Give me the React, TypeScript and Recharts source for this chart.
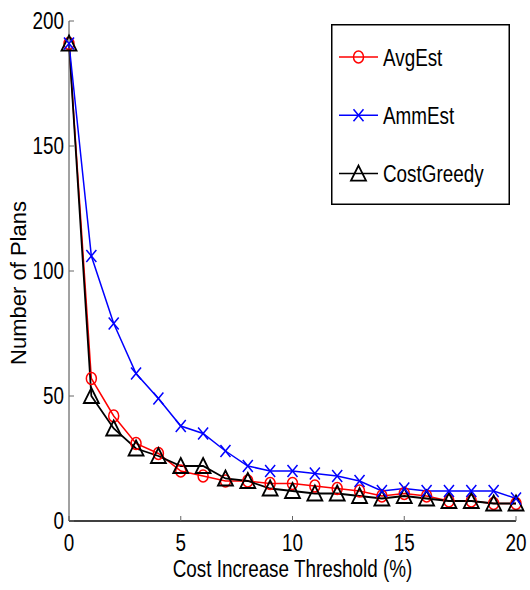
import React from "react";
import { LineChart, Line, XAxis, YAxis, Legend } from "recharts";

// cost increase threshold (%) on the x axis
const thresholds = [0, 1, 2, 3, 4, 5, 6, 7, 8, 9, 10, 11, 12, 13, 14, 15, 16, 17, 18, 19, 20];

// number of plans kept by each method
const avgEst = [191, 57, 42, 31, 27, 20, 18, 16, 16, 15, 15, 14, 13, 12, 10, 11, 10, 8, 8, 7, 7];
const ammEst = [191, 106, 79, 59, 49, 38, 35, 28, 22, 20, 20, 19, 18, 16, 12, 13, 12, 12, 12, 12, 9];
const costGreedy = [191, 50, 37, 29, 26, 22, 22, 17, 16, 13, 12, 11, 11, 10, 9, 10, 9, 8, 8, 7, 7];

const xTicks = [0, 5, 10, 15, 20];
const yTicks = [0, 50, 100, 150, 200];

const data = thresholds.map((t, i) => ({
  threshold: t,
  avgEst: avgEst[i],
  ammEst: ammEst[i],
  costGreedy: costGreedy[i],
}));

const font = "'Liberation Sans', Arial, sans-serif";

const colors = {
  avgEst: "#ff0000",
  ammEst: "#0000ff",
  costGreedy: "#000000",
};

// condensed helvetica look: squeeze the glyphs horizontally
const NarrowText = ({
  x,
  y,
  anchor = "start",
  size = 23,
  children,
}: {
  x: number;
  y: number;
  anchor?: "start" | "middle" | "end";
  size?: number;
  children: React.ReactNode;
}) => (
  <text
    transform={`translate(${x} ${y}) scale(0.82 1)`}
    x={0}
    y={0}
    textAnchor={anchor}
    fontFamily={font}
    fontSize={size}
    fill="#000"
  >
    {children}
  </text>
);

const XTick = (props: any) => (
  <NarrowText x={props.x} y={props.y + 16} anchor="middle">
    {props.payload.value}
  </NarrowText>
);

const YTick = (props: any) => (
  <NarrowText x={props.x} y={props.y + 8} anchor="end">
    {props.payload.value}
  </NarrowText>
);

type MarkerKind = "circle" | "cross" | "triangle";

// matlab style markers: o, x, ^
const Marker = ({ kind, cx, cy, color }: { kind: MarkerKind; cx: number; cy: number; color: string }) => {
  if (kind === "circle") {
    return <ellipse cx={cx} cy={cy} rx={5} ry={6} fill="none" stroke={color} strokeWidth={1.5} />;
  }
  if (kind === "cross") {
    return (
      <path
        d={`M${cx - 5},${cy - 6}L${cx + 5},${cy + 6}M${cx - 5},${cy + 6}L${cx + 5},${cy - 6}`}
        stroke={color}
        strokeWidth={1.5}
        fill="none"
      />
    );
  }
  return (
    <path
      d={`M${cx},${cy - 8}L${cx + 7.5},${cy + 7}L${cx - 7.5},${cy + 7}Z`}
      fill="none"
      stroke={color}
      strokeWidth={1.8}
    />
  );
};

const makeDot = (kind: MarkerKind, color: string, prefix: string) => (props: any) => {
  const { cx, cy, index } = props;
  if (cx == null || cy == null) return <g key={`${prefix}-${index}`} />;
  return (
    <g key={`${prefix}-${index}`}>
      <Marker kind={kind} cx={cx} cy={cy} color={color} />
    </g>
  );
};

const series: { key: string; name: string; kind: MarkerKind; color: string }[] = [
  { key: "avgEst", name: "AvgEst", kind: "circle", color: colors.avgEst },
  { key: "ammEst", name: "AmmEst", kind: "cross", color: colors.ammEst },
  { key: "costGreedy", name: "CostGreedy", kind: "triangle", color: colors.costGreedy },
];

const LegendBox = () => (
  <svg width={179} height={181}>
    <rect x={0.75} y={0.75} width={177.5} height={179.5} fill="#fff" stroke="#000" strokeWidth={1.5} />
    {series.map((s, i) => {
      const cy = 33 + i * 58.3;
      return (
        <g key={s.key}>
          <line x1={8} x2={47} y1={cy} y2={cy} stroke={s.color} strokeWidth={1.5} />
          <Marker kind={s.kind} cx={27.5} cy={cy} color={s.color} />
          <NarrowText x={52} y={cy + 8.5}>
            {s.name}
          </NarrowText>
        </g>
      );
    })}
  </svg>
);

// rotated y axis title, left of the tick labels
const YTitle = () => (
  <text
    x={18}
    y={283}
    transform="rotate(-90 18 283)"
    textAnchor="middle"
    dominantBaseline="central"
    fontFamily={font}
    fontSize={22}
    fill="#000"
  >
    Number of Plans
  </text>
);

const App: React.FC = () => {
  return (
    <div style={{ position: "absolute", left: 0, top: 0, background: "#fff" }}>
      <LineChart
        width={530}
        height={590}
        data={data}
        margin={{ top: 21, right: 14, left: 9, bottom: 0 }}
      >
        <XAxis
          dataKey="threshold"
          type="number"
          domain={[0, 20]}
          ticks={xTicks}
          height={69}
          axisLine={{ stroke: "#000", strokeWidth: 1.5 }}
          tickLine={{ stroke: "#666" }}
          tickSize={-5}
          tickMargin={19}
          tick={<XTick />}
          label={({ viewBox }: any) => (
            <NarrowText x={viewBox.x + viewBox.width / 2} y={viewBox.y + 56} anchor="middle">
              Cost Increase Threshold (%)
            </NarrowText>
          )}
        />
        <YAxis
          type="number"
          domain={[0, 200]}
          ticks={yTicks}
          width={60}
          axisLine={{ stroke: "#444", strokeWidth: 1 }}
          tickLine={{ stroke: "#666" }}
          tickSize={-5}
          tickMargin={10}
          tick={<YTick />}
          label={() => <YTitle />}
        />
        <Legend
          layout="horizontal"
          verticalAlign="middle"
          content={() => <LegendBox />}
          wrapperStyle={{ left: 331, top: 24, width: 179, height: 181 }}
        />
        <Line
          dataKey="avgEst"
          name="AvgEst"
          type="linear"
          stroke={colors.avgEst}
          strokeWidth={1.5}
          dot={makeDot("circle", colors.avgEst, "avg")}
          activeDot={false}
          isAnimationActive={false}
        />
        <Line
          dataKey="costGreedy"
          name="CostGreedy"
          type="linear"
          stroke={colors.costGreedy}
          strokeWidth={1.8}
          dot={makeDot("triangle", colors.costGreedy, "cg")}
          activeDot={false}
          isAnimationActive={false}
        />
        <Line
          dataKey="ammEst"
          name="AmmEst"
          type="linear"
          stroke={colors.ammEst}
          strokeWidth={1.5}
          dot={makeDot("cross", colors.ammEst, "amm")}
          activeDot={false}
          isAnimationActive={false}
        />
      </LineChart>
    </div>
  );
};

export default App;
